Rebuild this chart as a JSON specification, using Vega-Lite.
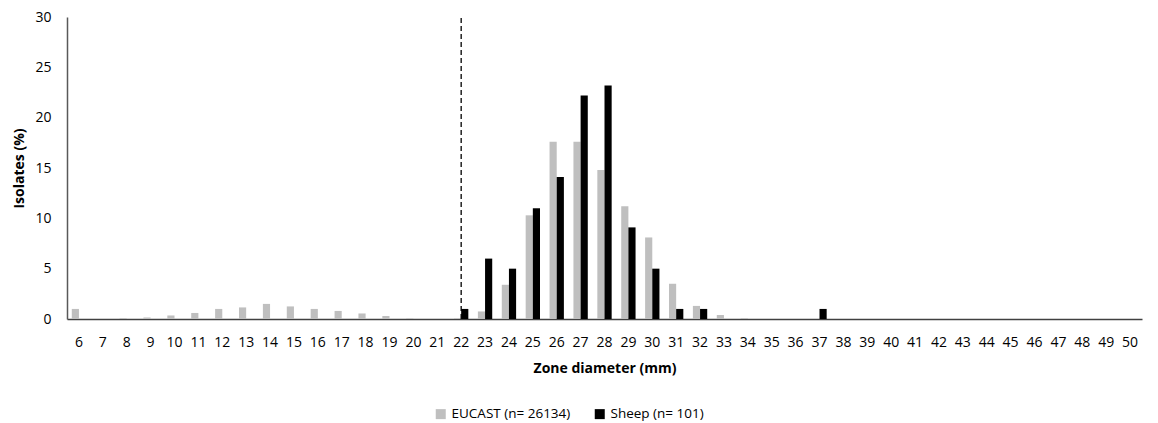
{
  "$schema": "https://vega.github.io/schema/vega-lite/v6.json",
  "width": 1075,
  "height": 302,
  "autosize": "none",
  "padding": {"left": 67, "top": 17, "right": 16, "bottom": 104},
  "background": "white",
  "config": {
    "view": {"stroke": null},
    "font": "Open Sans",
    "axis": {"labelFont": "Open Sans", "titleFont": "Open Sans", "labelColor": "#000000", "titleColor": "#000000"}
  },
  "datasets": {
    "bars": [
      {"d": 6, "s": "EUCAST (n= 26134)", "v": 1.0}, {"d": 6, "s": "Sheep (n= 101)", "v": 0},
      {"d": 7, "s": "EUCAST (n= 26134)", "v": 0}, {"d": 7, "s": "Sheep (n= 101)", "v": 0},
      {"d": 8, "s": "EUCAST (n= 26134)", "v": 0.1}, {"d": 8, "s": "Sheep (n= 101)", "v": 0},
      {"d": 9, "s": "EUCAST (n= 26134)", "v": 0.15}, {"d": 9, "s": "Sheep (n= 101)", "v": 0},
      {"d": 10, "s": "EUCAST (n= 26134)", "v": 0.35}, {"d": 10, "s": "Sheep (n= 101)", "v": 0},
      {"d": 11, "s": "EUCAST (n= 26134)", "v": 0.6}, {"d": 11, "s": "Sheep (n= 101)", "v": 0},
      {"d": 12, "s": "EUCAST (n= 26134)", "v": 1.0}, {"d": 12, "s": "Sheep (n= 101)", "v": 0},
      {"d": 13, "s": "EUCAST (n= 26134)", "v": 1.15}, {"d": 13, "s": "Sheep (n= 101)", "v": 0},
      {"d": 14, "s": "EUCAST (n= 26134)", "v": 1.5}, {"d": 14, "s": "Sheep (n= 101)", "v": 0},
      {"d": 15, "s": "EUCAST (n= 26134)", "v": 1.25}, {"d": 15, "s": "Sheep (n= 101)", "v": 0},
      {"d": 16, "s": "EUCAST (n= 26134)", "v": 1.0}, {"d": 16, "s": "Sheep (n= 101)", "v": 0},
      {"d": 17, "s": "EUCAST (n= 26134)", "v": 0.8}, {"d": 17, "s": "Sheep (n= 101)", "v": 0},
      {"d": 18, "s": "EUCAST (n= 26134)", "v": 0.55}, {"d": 18, "s": "Sheep (n= 101)", "v": 0},
      {"d": 19, "s": "EUCAST (n= 26134)", "v": 0.3}, {"d": 19, "s": "Sheep (n= 101)", "v": 0},
      {"d": 20, "s": "EUCAST (n= 26134)", "v": 0.07}, {"d": 20, "s": "Sheep (n= 101)", "v": 0},
      {"d": 21, "s": "EUCAST (n= 26134)", "v": 0}, {"d": 21, "s": "Sheep (n= 101)", "v": 0},
      {"d": 22, "s": "EUCAST (n= 26134)", "v": 0.07}, {"d": 22, "s": "Sheep (n= 101)", "v": 1},
      {"d": 23, "s": "EUCAST (n= 26134)", "v": 0.75}, {"d": 23, "s": "Sheep (n= 101)", "v": 6},
      {"d": 24, "s": "EUCAST (n= 26134)", "v": 3.4}, {"d": 24, "s": "Sheep (n= 101)", "v": 5},
      {"d": 25, "s": "EUCAST (n= 26134)", "v": 10.3}, {"d": 25, "s": "Sheep (n= 101)", "v": 11},
      {"d": 26, "s": "EUCAST (n= 26134)", "v": 17.6}, {"d": 26, "s": "Sheep (n= 101)", "v": 14.1},
      {"d": 27, "s": "EUCAST (n= 26134)", "v": 17.6}, {"d": 27, "s": "Sheep (n= 101)", "v": 22.2},
      {"d": 28, "s": "EUCAST (n= 26134)", "v": 14.8}, {"d": 28, "s": "Sheep (n= 101)", "v": 23.2},
      {"d": 29, "s": "EUCAST (n= 26134)", "v": 11.2}, {"d": 29, "s": "Sheep (n= 101)", "v": 9.1},
      {"d": 30, "s": "EUCAST (n= 26134)", "v": 8.1}, {"d": 30, "s": "Sheep (n= 101)", "v": 5},
      {"d": 31, "s": "EUCAST (n= 26134)", "v": 3.5}, {"d": 31, "s": "Sheep (n= 101)", "v": 1},
      {"d": 32, "s": "EUCAST (n= 26134)", "v": 1.3}, {"d": 32, "s": "Sheep (n= 101)", "v": 1},
      {"d": 33, "s": "EUCAST (n= 26134)", "v": 0.4}, {"d": 33, "s": "Sheep (n= 101)", "v": 0},
      {"d": 34, "s": "EUCAST (n= 26134)", "v": 0.1}, {"d": 34, "s": "Sheep (n= 101)", "v": 0},
      {"d": 35, "s": "EUCAST (n= 26134)", "v": 0}, {"d": 35, "s": "Sheep (n= 101)", "v": 0},
      {"d": 36, "s": "EUCAST (n= 26134)", "v": 0}, {"d": 36, "s": "Sheep (n= 101)", "v": 0},
      {"d": 37, "s": "EUCAST (n= 26134)", "v": 0}, {"d": 37, "s": "Sheep (n= 101)", "v": 1},
      {"d": 38, "s": "EUCAST (n= 26134)", "v": 0}, {"d": 38, "s": "Sheep (n= 101)", "v": 0},
      {"d": 39, "s": "EUCAST (n= 26134)", "v": 0}, {"d": 39, "s": "Sheep (n= 101)", "v": 0},
      {"d": 40, "s": "EUCAST (n= 26134)", "v": 0}, {"d": 40, "s": "Sheep (n= 101)", "v": 0},
      {"d": 41, "s": "EUCAST (n= 26134)", "v": 0}, {"d": 41, "s": "Sheep (n= 101)", "v": 0},
      {"d": 42, "s": "EUCAST (n= 26134)", "v": 0}, {"d": 42, "s": "Sheep (n= 101)", "v": 0},
      {"d": 43, "s": "EUCAST (n= 26134)", "v": 0}, {"d": 43, "s": "Sheep (n= 101)", "v": 0},
      {"d": 44, "s": "EUCAST (n= 26134)", "v": 0}, {"d": 44, "s": "Sheep (n= 101)", "v": 0},
      {"d": 45, "s": "EUCAST (n= 26134)", "v": 0}, {"d": 45, "s": "Sheep (n= 101)", "v": 0},
      {"d": 46, "s": "EUCAST (n= 26134)", "v": 0}, {"d": 46, "s": "Sheep (n= 101)", "v": 0},
      {"d": 47, "s": "EUCAST (n= 26134)", "v": 0}, {"d": 47, "s": "Sheep (n= 101)", "v": 0},
      {"d": 48, "s": "EUCAST (n= 26134)", "v": 0}, {"d": 48, "s": "Sheep (n= 101)", "v": 0},
      {"d": 49, "s": "EUCAST (n= 26134)", "v": 0}, {"d": 49, "s": "Sheep (n= 101)", "v": 0},
      {"d": 50, "s": "EUCAST (n= 26134)", "v": 0}, {"d": 50, "s": "Sheep (n= 101)", "v": 0}
    ],
    "cutoff": [{"d": 22, "lo": 0, "hi": 30}]
  },
  "layer": [
    {
      "data": {"name": "bars"},
      "mark": {"type": "bar"},
      "encoding": {
        "x": {
          "field": "d", "type": "ordinal",
          "scale": {"paddingInner": 0.4, "paddingOuter": 0.2},
          "axis": {
            "title": "Zone diameter (mm)", "titleFontWeight": "bold", "titleFontSize": 14,
            "labelAngle": 0, "labelFontSize": 14, "ticks": false, "labelPadding": 16,
            "domainColor": "#404040", "domainWidth": 1.5, "titlePadding": 12
          }
        },
        "xOffset": {"field": "s", "type": "nominal", "scale": {"paddingInner": 0}},
        "y": {
          "field": "v", "type": "quantitative",
          "scale": {"domain": [0, 30], "nice": false},
          "axis": {
            "title": "Isolates (%)", "titleFontWeight": "bold", "titleFontSize": 14,
            "values": [0, 5, 10, 15, 20, 25, 30], "grid": false, "ticks": false,
            "labelFontSize": 14, "labelPadding": 16, "domainColor": "#595959", "domainWidth": 1.5, "titlePadding": 8
          }
        },
        "color": {
          "field": "s", "type": "nominal",
          "scale": {"domain": ["EUCAST (n= 26134)", "Sheep (n= 101)"], "range": ["#bfbfbf", "#000000"]},
          "legend": {
            "title": null, "orient": "none", "direction": "horizontal",
            "legendX": 367, "legendY": 390, "symbolType": "square", "symbolSize": 100,
            "labelFontSize": 13.5, "columnPadding": 22, "symbolOpacity": 1
          }
        }
      }
    },
    {
      "data": {"name": "cutoff"},
      "mark": {"type": "rule", "color": "#000000", "strokeDash": [5, 3], "strokeWidth": 1.3},
      "encoding": {
        "x": {"field": "d", "type": "ordinal"},
        "y": {"field": "lo", "type": "quantitative"},
        "y2": {"field": "hi"}
      }
    }
  ]
}
